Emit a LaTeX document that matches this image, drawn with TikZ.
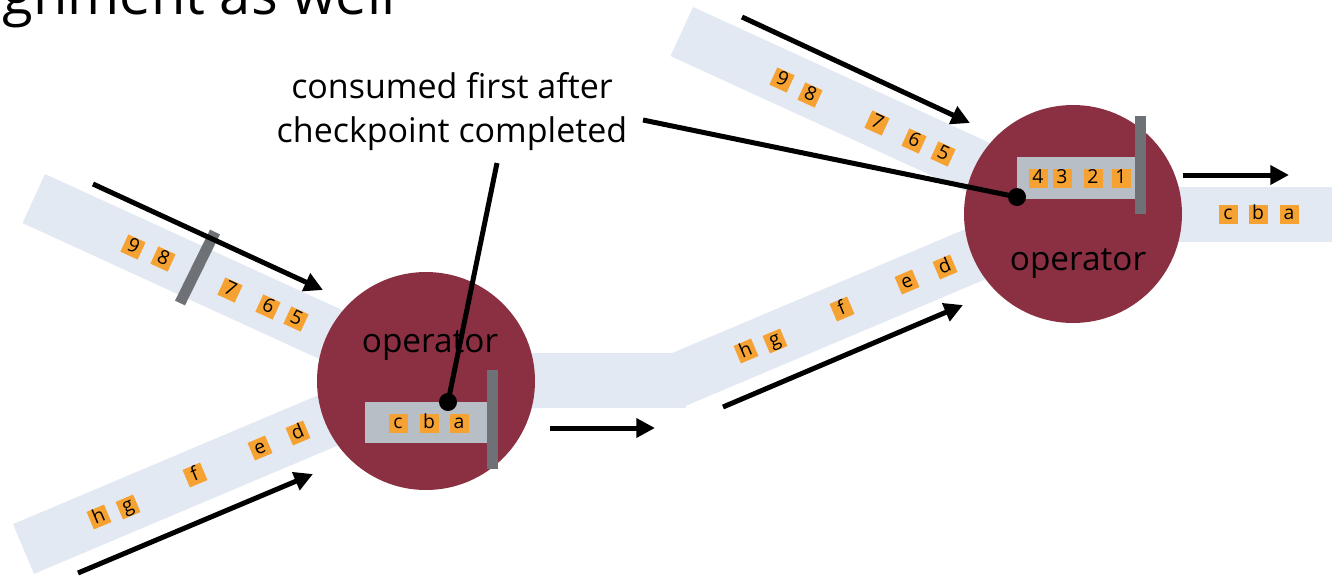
\documentclass[tikz,border=0pt]{standalone}
\usepackage{fontspec}
\setmainfont{Open Sans}
\usetikzlibrary{arrows.meta,calc}

\definecolor{opred}{HTML}{8A3042}
\definecolor{bandblue}{HTML}{E3E9F3}
\definecolor{queuegray}{HTML}{B8BEC6}
\definecolor{bargray}{HTML}{6E7176}
\definecolor{itemorange}{HTML}{F5A232}

\tikzset{
  band/.style={bandblue, line width=40.5pt, line cap=butt},
  opcircle/.style={circle, fill=opred, minimum size=163.5pt, inner sep=0pt},
  optext/.style={font=\fontsize{25}{25}\selectfont, text=black},
  queuebox/.style={fill=queuegray, inner sep=0pt},
  barrier/.style={fill=bargray, inner sep=0pt, minimum width=8.25pt},
  item/.style={fill=itemorange, minimum size=14.25pt, inner sep=0pt,
    text height=10.5pt, text depth=2.5pt, font=\fontsize{14.5}{14.5}\selectfont},
  flow/.style={line width=3.75pt, -{Triangle[length=14pt,width=14pt]}},
  pointer/.style={line width=3.75pt},
  dotmark/.style={circle, fill=black, minimum size=13.5pt, inner sep=0pt},
}

\begin{document}
\begin{tikzpicture}[x=0.75pt,y=-0.75pt]
\useasboundingbox (0,0) rectangle (1332,576);

% heading, running off the top edge
\node[anchor=base east, font=\fontsize{42}{42}\selectfont, inner sep=0pt] (heading) at (396,14) {gnment as well};

% ---- input streams of the first operator ----
% upper stream, with its barrier
\draw[band] (33.75,198.5) -- (334,336);
\foreach \lab/\x/\y in {9/133/247, 8/163/259, 7/230/290, 6/268/307, 5/296/319}
  \node[item, rotate=-24.6] (ua\lab) at (\x,\y) {\lab};
\coordinate (ubarA) at (215,232);
\coordinate (ubarB) at (180,303);
\draw[bargray, line width=8.25pt] (ubarA) -- (ubarB);
\coordinate (uarrA) at (93,184);
\coordinate (uarrB) at (323,290);
\draw[flow] (uarrA) -- (uarrB);

% lower stream
\draw[band] (23.5,549) -- (336.6,416.7);
\foreach \lab/\x/\y in {h/99/517, g/128/507, f/195/475, e/260/448, d/298/433}
  \node[item, rotate=22.9] (la\lab) at (\x,\y) {\lab};
\coordinate (larrA) at (78,573);
\coordinate (larrB) at (313,474);
\draw[flow] (larrA) -- (larrB);

% ---- stream between the two operators ----
\fill[bandblue] (500,353) rectangle (686,408);
\begin{scope}[shift={(647,-166)}]
  \draw[band] (23.5,549) -- (336.6,416.7);
  \foreach \lab/\x/\y in {h/99/517, g/128/507, f/195/475, e/260/448, d/298/433}
    \node[item, rotate=22.9] (ma\lab) at (\x,\y) {\lab};
  \coordinate (marrA) at (76,573);
  \coordinate (marrB) at (316,471);
  \draw[flow] (marrA) -- (marrB);
\end{scope}
\coordinate (harrA) at (550,428);
\coordinate (harrB) at (655,428);
\draw[flow] (harrA) -- (harrB);

% ---- upper input stream of the second operator ----
\begin{scope}[shift={(648,-167)}]
  \draw[band] (33.75,198.5) -- (334,336);
  \foreach \lab/\x/\y in {9/134/247, 8/162/262, 7/229/290, 6/266/308, 5/295/321}
    \node[item, rotate=-24.6] (ra\lab) at (\x,\y) {\lab};
  \coordinate (rarrA) at (94,184);
  \coordinate (rarrB) at (322,290);
  \draw[flow] (rarrA) -- (rarrB);
\end{scope}

% ---- output stream ----
\fill[bandblue] (1150,187) rectangle (1332,242);
\foreach \lab/\x in {c/1228, b/1258, a/1289}
  \node[item] (out\lab) at (\x,214) {\lab};
\coordinate (oarrA) at (1183,175);
\coordinate (oarrB) at (1289,175);
\draw[flow] (oarrA) -- (oarrB);

% ---- first operator ----
\node[opcircle] (op1) at (426,381) {};
\node[optext, anchor=base] (op1text) at (430,352) {operator};
\node[queuebox, minimum width=91.5pt, minimum height=30.75pt] (q1) at (426,422.5) {};
\node[barrier, minimum height=74.25pt] (bar1) at (492.5,419.5) {};
\foreach \lab/\x in {c/398, b/429, a/459}
  \node[item] (q1\lab) at (\x,423) {\lab};
\node[dotmark] (dot1) at (448,402) {};

% ---- second operator ----
\node[opcircle] (op2) at (1073,214) {};
\node[optext, anchor=base] (op2text) at (1078,270) {operator};
\node[queuebox, minimum width=88.5pt, minimum height=31.5pt] (q2) at (1076,178) {};
\node[barrier, minimum height=73.5pt] (bar2) at (1140.5,165) {};
\foreach \lab/\x in {4/1038, 3/1062, 2/1093, 1/1121}
  \node[item] (q2n\lab) at (\x,178) {\lab};
\node[dotmark] (dot2) at (1017,197) {};

% ---- annotation ----
\node[align=center, anchor=base, font=\fontsize{25.5}{33}\selectfont, inner sep=0pt]
  (note) at (452,142) {consumed first after\\checkpoint completed};
\coordinate (noteA) at (497,163);
\coordinate (noteB) at (643,120);
\draw[pointer] (noteA) -- (dot1.center);
\draw[pointer] (noteB) -- (dot2.center);
\end{tikzpicture}
\end{document}
